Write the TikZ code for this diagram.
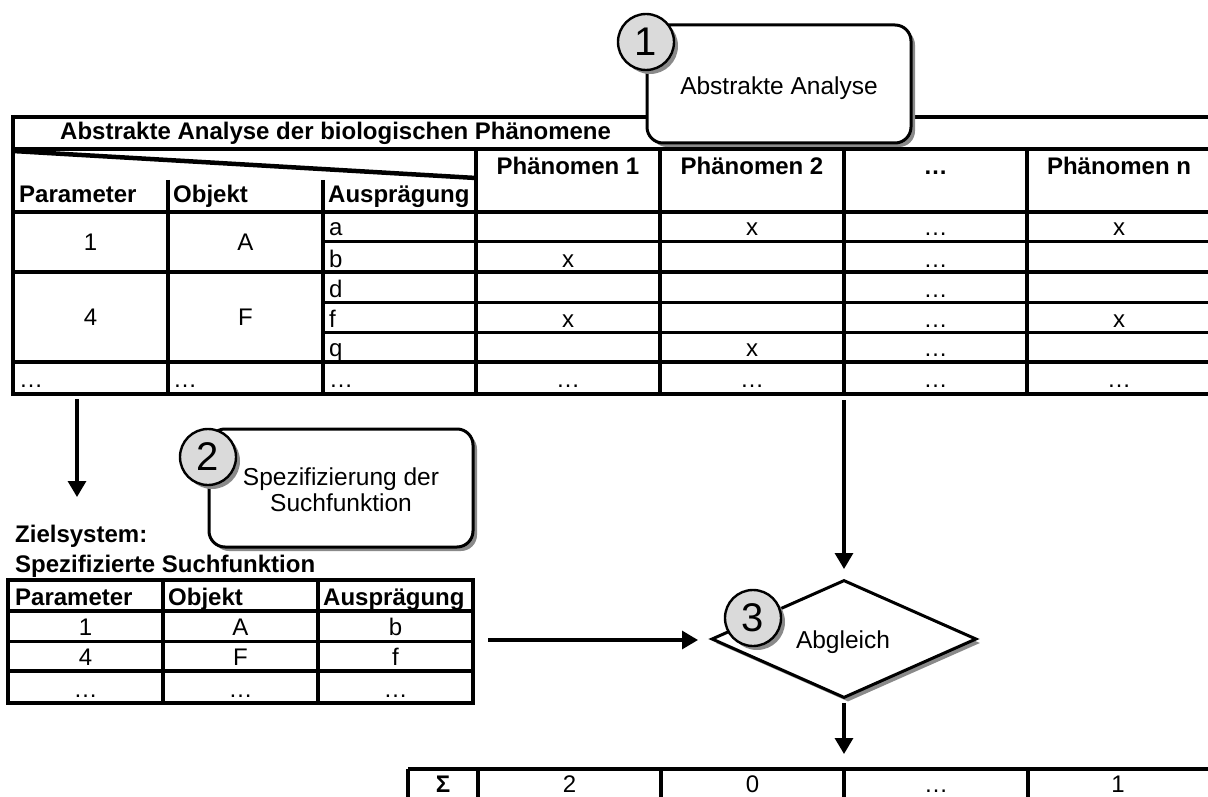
\documentclass[tikz,border=0pt]{standalone}
\usepackage{fontspec}
\setmainfont{Liberation Sans}
\usetikzlibrary{arrows.meta,shapes.geometric}

\definecolor{shadowgray}{HTML}{8A8A8A}
\definecolor{badgefill}{HTML}{DADADA}

\begin{document}
\begin{tikzpicture}[x=1pt,y=-1pt,
  rulethick/.style={line width=4.5pt},
  rulemid/.style={line width=4pt},
  rulethin/.style={line width=3pt},
  txt/.style={inner sep=0pt, anchor=base, font=\fontsize{24}{27}\selectfont},
  txtl/.style={txt, anchor=base west},
  bold/.style={inner sep=0pt, anchor=base west, font=\bfseries\fontsize{24}{27}\selectfont},
  boldc/.style={bold, anchor=base},
  label/.style={inner sep=0pt, anchor=base, font=\fontsize{24.5}{28}\selectfont},
  flow/.style={line width=3.2pt, -{Triangle[length=16pt,width=18pt]}},
  calloutbox/.style={draw, line width=3pt, rounded corners=16pt, fill=white,
    minimum width=264pt, minimum height=118pt, inner sep=0pt},
  calloutshade/.style={calloutbox, draw=none, fill=shadowgray},
  badge/.style={circle, draw, line width=2.4pt, fill=badgefill, minimum size=56pt,
    inner sep=0pt, font=\fontsize{40}{40}\selectfont},
  badgeshade/.style={badge, draw=none, fill=shadowgray},
  decision/.style={diamond, draw, line width=3pt, fill=white, inner sep=0pt,
    minimum width=265pt, minimum height=118pt},
  decisionshade/.style={decision, draw=none, fill=shadowgray},
]
\useasboundingbox (0,0) rectangle (1208,797);
\clip (0,0) rectangle (1208,797);

% ---------- analysis table ----------
\draw[rulethick] (13,117) -- (1216,117);
\draw[rulethick] (13,149) -- (1216,149);
\draw[rulethick] (13,212) -- (1216,212);
\draw[rulethick] (13,394) -- (1216,394);
\draw[rulethick] (13,115) -- (13,396);
\draw[rulethick] (13,151) -- (476,178);
\draw[rulethick] (168,180) -- (168,394);
\draw[rulethick] (323,180) -- (323,394);
\foreach \cx in {476,660,844,1027} \draw[rulethick] (\cx,149) -- (\cx,394);
\draw[rulethin] (323,241) -- (1216,241);
\draw[rulemid]  (13,272) -- (1216,272);
\draw[rulethin] (323,302) -- (1216,302);
\draw[rulethin] (323,332) -- (1216,332);
\draw[rulemid]  (13,362) -- (1216,362);

\node[bold] (ttl) at (60,140) {Abstrakte Analyse der biologischen Phänomene};
\node[bold] (hpar) at (19,203) {Parameter};
\node[bold] (hobj) at (173,203) {Objekt};
\node[bold] (haus) at (328,203) {Ausprägung};
\node[boldc] (hp1) at (568,175) {Phänomen 1};
\node[boldc] (hp2) at (752,175) {Phänomen 2};
\node[boldc] (hp3) at (935.5,175) {…};
\node[boldc] (hpn) at (1119,175) {Phänomen n};

\node[txt] (par1) at (90.5,250) {1};
\node[txt] (obj1) at (245.5,250) {A};
\node[txt] (par4) at (90.5,325) {4};
\node[txt] (obj4) at (245.5,325) {F};
\node[txtl] (ka) at (329,235) {a};
\node[txtl] (kb) at (329,267) {b};
\node[txtl] (kd) at (329,297) {d};
\node[txtl] (kf) at (329,327) {f};
\node[txtl] (kq) at (329,356) {q};

\node[txt] (xa2) at (752,235) {x};
\node[txt] (xan) at (1119,235) {x};
\node[txt] (xb1) at (568,267) {x};
\node[txt] (xf1) at (568,327) {x};
\node[txt] (xfn) at (1119,327) {x};
\node[txt] (xq2) at (752,356) {x};
\foreach \ry [count=\i] in {235,267,297,327,356}
  \node[txt] (dots\i) at (935.5,\ry) {…};

\node[txtl] (lpar) at (19,387) {…};
\node[txtl] (lobj) at (173,387) {…};
\node[txtl] (laus) at (329,387) {…};
\foreach \cx [count=\i] in {568,752,935.5,1119}
  \node[txt] (lph\i) at (\cx,387) {…};

% ---------- step 1 ----------
\node[calloutshade] (c1s) at (783,88) {};
\node[calloutbox] (c1) at (779,84) {};
\node[label] (c1t) at (779,95) {Abstrakte Analyse};
\node[badgeshade] (b1s) at (650,46) {};
\node[badge] (b1) at (646,42) {1};

% ---------- step 2 ----------
\node[calloutshade] (c2s) at (345,492) {};
\node[calloutbox] (c2) at (341,488) {};
\node[label] (c2a) at (341,485) {Spezifizierung der};
\node[label] (c2b) at (341,511) {Suchfunktion};
\node[badgeshade] (b2s) at (212,461) {};
\node[badge] (b2) at (208,457) {2};

% ---------- target system ----------
\node[bold] (zs1) at (15,542) {Zielsystem:};
\node[bold] (zs2) at (15,572) {Spezifizierte Suchfunktion};
\draw[rulethick] (8,580) rectangle (473,703);
\draw[rulethick] (163,580) -- (163,703);
\draw[rulethick] (318,580) -- (318,703);
\draw[rulemid]  (8,611) -- (473,611);
\draw[rulethin] (8,641) -- (473,641);
\draw[rulemid]  (8,671) -- (473,671);
\node[bold] (spar) at (15,605) {Parameter};
\node[bold] (sobj) at (168,605) {Objekt};
\node[bold] (saus) at (323,605) {Ausprägung};
\node[txt] (s11) at (85.5,635) {1};
\node[txt] (s12) at (240.5,635) {A};
\node[txt] (s13) at (395.5,635) {b};
\node[txt] (s21) at (85.5,665) {4};
\node[txt] (s22) at (240.5,665) {F};
\node[txt] (s23) at (395.5,665) {f};
\node[txt] (s31) at (85.5,697) {…};
\node[txt] (s32) at (240.5,697) {…};
\node[txt] (s33) at (395.5,697) {…};

% ---------- step 3 ----------
\node[decisionshade] (ds) at (848,643) {};
\node[decision] (d) at (844,639) {};
\node[label] (dt) at (843,648) {Abgleich};
\node[badgeshade] (b3s) at (757,622) {};
\node[badge] (b3) at (753,618) {3};

% ---------- result row ----------
\draw[rulethick] (408,769) -- (1216,769);
\foreach \cx in {408,478,661,844,1028} \draw[rulethick] (\cx,769) -- (\cx,800);
\node[boldc] (rs) at (443,792) {Σ};
\node[txt] (r1) at (569.5,792) {2};
\node[txt] (r2) at (752.5,792) {0};
\node[txt] (r3) at (936,792) {…};
\node[txt] (r4) at (1118,792) {1};

% ---------- connectors ----------
\coordinate (a1s) at (77,399);
\coordinate (a1e) at (77,497);
\coordinate (a2s) at (844,400);
\coordinate (a2e) at (844,569);
\coordinate (a3s) at (488,640);
\coordinate (a3e) at (698,640);
\coordinate (a4s) at (844,703);
\coordinate (a4e) at (844,754);
\draw[flow] (a1s) -- (a1e);
\draw[flow] (a2s) -- (a2e);
\draw[flow] (a3s) -- (a3e);
\draw[flow] (a4s) -- (a4e);
\end{tikzpicture}
\end{document}
